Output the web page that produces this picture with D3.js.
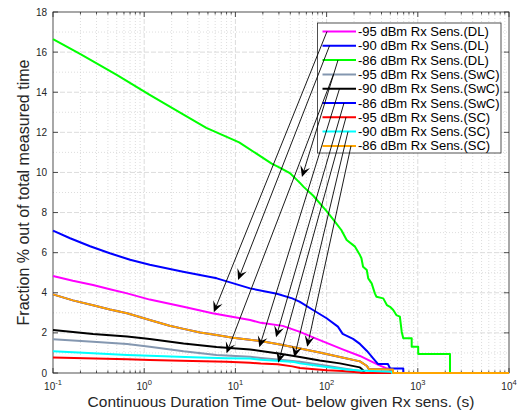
<!DOCTYPE html>
<html>
<head>
<meta charset="utf-8">
<script src="https://cdn.jsdelivr.net/npm/d3@7"></script>
<style>
  body { margin: 0; background: #fff; }
  svg { font-family: "Liberation Sans", Arial, sans-serif; }
</style>
</head>
<body>
<svg id="chart" width="520" height="414"></svg>
<script>
// legend entries, in plotting order
const seriesNames = [
    '-95 dBm Rx Sens.(DL)', '-90 dBm Rx Sens.(DL)', '-86 dBm Rx Sens.(DL)',
    '-95 dBm Rx Sens.(SwC)', '-90 dBm Rx Sens.(SwC)', '-86 dBm Rx Sens.(SwC)',
    '-95 dBm Rx Sens.(SC)', '-90 dBm Rx Sens.(SC)', '-86 dBm Rx Sens.(SC)'
];
const seriesColors = ['#ff00ff', '#0000ff', '#00ff00', '#8497b0', '#000000', '#0000ff', '#ff0000', '#00ffff', '#ffa500'];

// [time out (s), fraction %]
const dl95 = [[0.1,4.84],[0.165,4.6],[0.275,4.39],[0.42,4.18],[0.65,3.97],[1.15,3.66],[2.7,3.3],[5.6,2.98],[14.5,2.64],[19,2.5],[33,2.35],[51,2.05],[71,1.78],[100,1.5],[150,1.18],[232,0.85],[300,0.6],[380,0.38],[455,0.23],[500,0.23],[500,0],[10000,0]];
const dl90 = [[0.1,7.1],[0.154,6.72],[0.255,6.32],[0.42,5.97],[0.7,5.65],[1.15,5.4],[2.67,5.05],[6.25,4.72],[14.5,4.22],[28.5,3.95],[42,3.72],[51,3.55],[71,3.14],[100,2.73],[133,2.31],[150,1.95],[195,1.7],[232,1.45],[277,1.1],[324,0.73],[365,0.45],[470,0.45],[496,0.23],[693,0.23],[693,0],[10000,0]];
const dl86 = [[0.1,16.65],[0.2,15.9],[0.5,14.87],[1.15,13.87],[2.7,12.88],[4.8,12.22],[11,11.5],[25,10.44],[31,10.23],[40,9.95],[51,9.48],[56,9.28],[71,8.85],[100,8.07],[118,7.66],[145,7.13],[166,6.63],[205,6.3],[232,5.88],[241,5.72],[251,5.3],[276,5.13],[286,4.72],[312,4.47],[338,3.97],[352,3.8],[418,3.72],[458,3.39],[496,3.3],[538,3.14],[582,2.89],[636,2.81],[666,2.06],[693,1.73],[857,1.73],[857,1.31],[1010,1.31],[1010,0.95],[2255,0.95],[2255,0],[10000,0]];
const swc95 = [[0.1,1.68],[0.275,1.56],[0.65,1.45],[1.15,1.31],[2.7,1.08],[6.2,0.9],[14.5,0.81],[19,0.75],[31,0.66],[51,0.56],[100,0.36],[166,0.2],[232,0.1],[263,0.05],[265,0],[10000,0]];
const swc90 = [[0.1,2.15],[0.275,1.95],[0.65,1.82],[1.15,1.7],[2.7,1.47],[6.2,1.3],[14.5,1.17],[19,1.1],[31,0.96],[51,0.8],[84,0.62],[140,0.48],[232,0.28],[250,0.15],[260,0],[10000,0]];
const swc86 = [[0.1,3.92],[0.165,3.62],[0.275,3.38],[0.42,3.17],[0.65,2.98],[1.15,2.64],[1.9,2.36],[2.7,2.2],[4.1,2.02],[6.2,1.9],[9.4,1.76],[18.7,1.6],[31,1.42],[51,1.22],[84,1.02],[140,0.8],[232,0.58],[277,0.35],[290,0.2],[535,0.18],[535,0],[10000,0]];
const sc95 = [[0.1,0.77],[0.65,0.68],[1.15,0.65],[3.4,0.6],[8,0.56],[14.5,0.51],[19,0.47],[29,0.44],[42,0.33],[51,0.25],[100,0.14],[150,0.1],[232,0.02],[240,0],[10000,0]];
const sc90 = [[0.1,1.08],[0.275,0.98],[0.65,0.9],[1.15,0.86],[3.4,0.78],[8,0.74],[14.5,0.72],[19,0.66],[31,0.6],[44,0.55],[51,0.48],[100,0.3],[166,0.18],[232,0.12],[520,0.06],[520,0],[10000,0]];
const sc86 = [[0.1,3.92],[0.165,3.62],[0.275,3.38],[0.42,3.17],[0.65,2.98],[1.15,2.64],[1.9,2.36],[2.7,2.2],[4.1,2.02],[6.2,1.9],[9.4,1.76],[18.7,1.6],[31,1.42],[51,1.22],[84,1.02],[140,0.8],[232,0.58],[277,0.35],[290,0.2],[535,0.18],[535,0],[10000,0]];
const allSeries = [dl95, dl90, dl86, swc95, swc90, swc86, sc95, sc90, sc86];

// arrow tips (data coords), one per legend entry
const arrowTips = [[5.8,3.03],[10.7,4.64],[53.7,9.77],[8.0,0.98],[18.3,1.28],[27.9,1.78],[29.5,0.51],[44.3,0.78],[61.4,1.31]];
// where each arrow leaves its legend sample, px from the sample's left end
const arrowStartOffsets = [4.5, 7, 15.5, 11, 17, 21.5, 23.5, 25.5, 28.5];

const xMajor = [0.1, 1, 10, 100, 1000, 10000];
const xExponents = ['-1', '0', '1', '2', '3', '4'];
const yMajor = [0, 2, 4, 6, 8, 10, 12, 14, 16, 18];
const yMinor = [1, 3, 5, 7, 9, 11, 13, 15, 17];

const plot = { left: 53, right: 509, top: 12, bottom: 373 };
const axisColor = '#262626';

const svg = d3.select('#chart');

const x = d3.scaleLog().domain([0.1, 10000]).range([plot.left, plot.right]);
const y = d3.scaleLinear().domain([0, 18]).range([plot.bottom, plot.top]);

const xMinor = x.ticks().filter(v => Math.abs(Math.log10(v) - Math.round(Math.log10(v))) > 1e-6);

// Grid lines
const grid = svg.append('g');
grid.selectAll('.xminor').data(xMinor).enter().append('line')
    .attr('x1', d => x(d)).attr('x2', d => x(d))
    .attr('y1', plot.top).attr('y2', plot.bottom)
    .attr('stroke', '#d4d4d4').attr('stroke-width', 0.8).attr('stroke-dasharray', '1,2');
grid.selectAll('.yminor').data(yMinor).enter().append('line')
    .attr('x1', plot.left).attr('x2', plot.right)
    .attr('y1', d => y(d)).attr('y2', d => y(d))
    .attr('stroke', '#d4d4d4').attr('stroke-width', 0.8).attr('stroke-dasharray', '1,2');
grid.selectAll('.xmajor').data(xMajor.slice(1, -1)).enter().append('line')
    .attr('x1', d => x(d)).attr('x2', d => x(d))
    .attr('y1', plot.top).attr('y2', plot.bottom)
    .attr('stroke', '#dcdcdc').attr('stroke-width', 1).attr('stroke-dasharray', '5,2');
grid.selectAll('.ymajor').data(yMajor.slice(1, -1)).enter().append('line')
    .attr('x1', plot.left).attr('x2', plot.right)
    .attr('y1', d => y(d)).attr('y2', d => y(d))
    .attr('stroke', '#dcdcdc').attr('stroke-width', 1).attr('stroke-dasharray', '5,2');

// Box and inward ticks on all four sides
const axes = svg.append('g').attr('stroke', axisColor).attr('stroke-width', 0.8);
axes.append('rect')
    .attr('x', plot.left).attr('y', plot.top)
    .attr('width', plot.right - plot.left).attr('height', plot.bottom - plot.top)
    .attr('fill', 'none');

function xTickMarks(values, len) {
    values.forEach(v => {
        axes.append('line').attr('x1', x(v)).attr('x2', x(v)).attr('y1', plot.bottom).attr('y2', plot.bottom - len);
        axes.append('line').attr('x1', x(v)).attr('x2', x(v)).attr('y1', plot.top).attr('y2', plot.top + len);
    });
}
function yTickMarks(values, len) {
    values.forEach(v => {
        axes.append('line').attr('y1', y(v)).attr('y2', y(v)).attr('x1', plot.left).attr('x2', plot.left + len);
        axes.append('line').attr('y1', y(v)).attr('y2', y(v)).attr('x1', plot.right).attr('x2', plot.right - len);
    });
}
xTickMarks(xMajor, 5);
xTickMarks(xMinor, 2.5);
yTickMarks(yMajor, 5);

// Tick labels
svg.selectAll('.ylabel').data(yMajor).enter().append('text')
    .attr('x', plot.left - 6).attr('y', d => y(d))
    .attr('text-anchor', 'end').attr('dominant-baseline', 'central')
    .attr('font-size', '10px').attr('fill', axisColor)
    .text(d => d);

const xl = svg.selectAll('.xlabel').data(xMajor).enter().append('text')
    .attr('x', d => x(d)).attr('y', plot.bottom + 17)
    .attr('text-anchor', 'middle').attr('font-size', '10px').attr('fill', axisColor);
xl.append('tspan').text('10');
xl.append('tspan').attr('dy', -5).attr('font-size', '7.5px').text((d, i) => xExponents[i]);

// Axis titles
svg.append('text')
    .attr('x', (plot.left + plot.right) / 2).attr('y', 407)
    .attr('text-anchor', 'middle').attr('font-size', '15.5px').attr('fill', axisColor)
    .text('Continuous Duration Time Out- below given Rx sens. (s)');
svg.append('text')
    .attr('transform', `translate(29,${(plot.top + plot.bottom) / 2}) rotate(-90)`)
    .attr('text-anchor', 'middle').attr('font-size', '16px').attr('fill', axisColor)
    .text('Fraction % out of total measured time');

// Curves
const line = d3.line().x(d => x(d[0])).y(d => y(d[1]));
svg.append('g').selectAll('path').data(allSeries).enter().append('path')
    .attr('d', line)
    .attr('fill', 'none')
    .attr('stroke', (d, i) => seriesColors[i])
    .attr('stroke-width', 2)
    .attr('stroke-linejoin', 'round');

// Legend
const legend = { left: 317.5, top: 23, width: 183.5, height: 130, row: 14.3, sample: [322.5, 356] };
const lg = svg.append('g');
lg.append('rect')
    .attr('x', legend.left).attr('y', legend.top)
    .attr('width', legend.width).attr('height', legend.height)
    .attr('fill', '#fff').attr('stroke', axisColor).attr('stroke-width', 0.8);
seriesNames.forEach((name, i) => {
    const ry = legend.top + 8.5 + i * legend.row;
    lg.append('line')
        .attr('x1', legend.sample[0]).attr('x2', legend.sample[1])
        .attr('y1', ry).attr('y2', ry)
        .attr('stroke', seriesColors[i]).attr('stroke-width', 2);
    lg.append('text')
        .attr('x', legend.sample[1] + 2).attr('y', ry)
        .attr('dominant-baseline', 'central')
        .attr('font-size', '13px').attr('fill', '#000')
        .text(name);
});

// Arrows from each legend entry to its curve
const ag = svg.append('g');
arrowTips.forEach((tip, i) => {
    const sx = legend.sample[0] + arrowStartOffsets[i];
    const sy = legend.top + 8.5 + i * legend.row;
    const tx = x(tip[0]), ty = y(tip[1]);
    const ang = Math.atan2(ty - sy, tx - sx);
    const back = 6;
    ag.append('line')
        .attr('x1', sx).attr('y1', sy)
        .attr('x2', tx - back * Math.cos(ang)).attr('y2', ty - back * Math.sin(ang))
        .attr('stroke', '#000').attr('stroke-width', 0.9);
    ag.append('path')
        .attr('d', 'M0,0 L-11,-5 L-6.5,0 L-11,5 Z')
        .attr('transform', `translate(${tx},${ty}) rotate(${ang * 180 / Math.PI})`)
        .attr('fill', '#000');
});
</script>
</body>
</html>
